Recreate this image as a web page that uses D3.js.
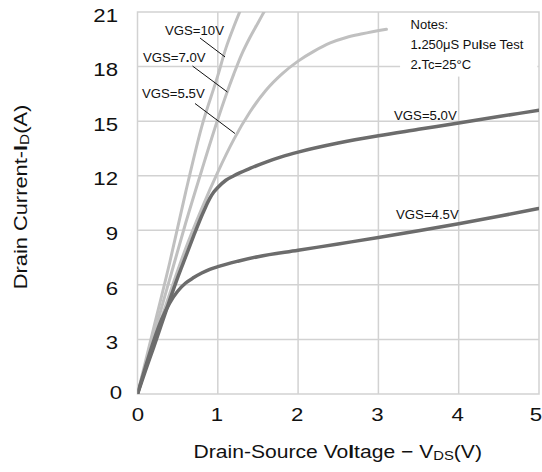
<!DOCTYPE html>
<html>
<head>
<meta charset="utf-8">
<script src="https://cdn.jsdelivr.net/npm/d3@7"></script>
<style>
  html, body { margin: 0; padding: 0; background: #fff; }
  svg { display: block; font-family: "Liberation Sans", Arial, sans-serif; }
</style>
</head>
<body>
<svg id="chart" width="542" height="472"></svg>
<script>
// Axis ticks
const xTicks = [0, 1, 2, 3, 4, 5];
const yTicks = [0, 3, 6, 9, 12, 15, 18, 21];

// Output characteristics: drain-source voltage (V) vs drain current (A)
const vds10  = [0, 0.2, 0.4, 0.6, 0.8, 1.0, 1.1, 1.2, 1.3];
const id10   = [0, 3.6, 7.2, 11.1, 14.7, 17.5, 19.0, 20.2, 21.3];

const vds70  = [0, 0.2, 0.4, 0.6, 0.8, 1.0, 1.1, 1.2, 1.3, 1.4, 1.5, 1.6];
const id70   = [0, 3.2, 6.3, 9.4, 12.3, 15.1, 16.4, 17.6, 18.7, 19.6, 20.4, 21.2];

const vds55  = [0, 0.2, 0.4, 0.6, 0.8, 1.0, 1.2, 1.4, 1.6, 1.8, 2.0, 2.2, 2.4, 2.6, 2.8, 3.1];
const id55   = [0, 2.8, 5.5, 8.0, 10.2, 12.2, 14.0, 15.5, 16.7, 17.6, 18.3, 18.85, 19.3, 19.6, 19.8, 20.05];

const vds50  = [0, 0.1, 0.2, 0.3, 0.4, 0.5, 0.6, 0.7, 0.8, 0.85, 0.9, 0.95, 1.0, 1.1, 1.2, 1.4, 1.6, 1.8, 2.0, 2.5, 3.0, 3.5, 4.0, 4.5, 5.0];
const id50   = [0, 1.3, 2.55, 3.85, 5.15, 6.4, 7.55, 8.7, 9.8, 10.3, 10.75, 11.1, 11.35, 11.75, 12.0, 12.4, 12.75, 13.05, 13.3, 13.8, 14.2, 14.55, 14.9, 15.25, 15.6];

const vds45  = [0, 0.1, 0.2, 0.3, 0.4, 0.5, 0.6, 0.7, 0.8, 0.9, 1.0, 1.25, 1.5, 2.0, 2.5, 3.0, 3.5, 4.0, 4.5, 5.0];
const id45   = [0, 1.5, 2.9, 4.1, 5.0, 5.65, 6.1, 6.4, 6.65, 6.85, 7.0, 7.3, 7.55, 7.9, 8.25, 8.6, 8.97, 9.36, 9.77, 10.2];

const seriesNames = ["VGS=10V", "VGS=7.0V", "VGS=5.5V", "VGS=5.0V", "VGS=4.5V"];

const series = [
  { name: seriesNames[0], v: vds10, i: id10, tone: "light" },
  { name: seriesNames[1], v: vds70, i: id70, tone: "light" },
  { name: seriesNames[2], v: vds55, i: id55, tone: "light" },
  { name: seriesNames[3], v: vds50, i: id50, tone: "dark" },
  { name: seriesNames[4], v: vds45, i: id45, tone: "dark" }
];

const svg = d3.select("#chart");
const plot = { left: 137.5, right: 539, top: 12, bottom: 394 };

const x = d3.scaleLinear().domain([0, 5]).range([plot.left, plot.right]);
const y = d3.scaleLinear().domain([0, 21]).range([plot.bottom, plot.top]);

const gridColor = "#d2d2d2";
const lightCurve = "#c0c0c0";
const darkCurve = "#6c6c6c";
const wideX = 1.2;

// Grid
const grid = svg.append("g");
grid.selectAll("line.v").data(xTicks.slice(1, -1)).join("line")
  .attr("x1", d => x(d)).attr("x2", d => x(d))
  .attr("y1", plot.top).attr("y2", plot.bottom)
  .attr("stroke", gridColor).attr("stroke-width", 1.5);
grid.selectAll("line.h").data(yTicks.slice(1, -1)).join("line")
  .attr("x1", plot.left).attr("x2", plot.right)
  .attr("y1", d => y(d)).attr("y2", d => y(d))
  .attr("stroke", gridColor).attr("stroke-width", 1.5);

// Notes panel background
svg.append("rect")
  .attr("x", x(3.27)).attr("y", plot.top)
  .attr("width", x(4.98) - x(3.27)).attr("height", y(17.45) - plot.top)
  .attr("fill", "#fff");

// Plot frame
svg.append("rect")
  .attr("x", plot.left).attr("y", plot.top)
  .attr("width", plot.right - plot.left).attr("height", plot.bottom - plot.top)
  .attr("fill", "none").attr("stroke", gridColor).attr("stroke-width", 1.5);

// Curves
svg.append("clipPath").attr("id", "plotClip").append("rect")
  .attr("x", plot.left).attr("y", plot.top)
  .attr("width", plot.right - plot.left).attr("height", plot.bottom - plot.top);

const line = d3.line()
  .x(d => x(d[0])).y(d => y(d[1]))
  .curve(d3.curveMonotoneX);

const curves = svg.append("g").attr("clip-path", "url(#plotClip)");
curves.selectAll("path")
  .data(series.filter(s => s.tone === "light").concat(series.filter(s => s.tone === "dark")))
  .join("path")
  .attr("d", s => line(s.v.map((v, k) => [v, s.i[k]])))
  .attr("fill", "none")
  .attr("stroke", s => s.tone === "light" ? lightCurve : darkCurve)
  .attr("stroke-width", s => s.tone === "light" ? 3 : 3.5)
  .attr("stroke-linecap", "round")
  .attr("stroke-linejoin", "round");

// Axes (labels only; grid and frame drawn above)
const yAxis = svg.append("g")
  .attr("transform", `translate(${plot.left},0)`)
  .call(d3.axisLeft(y).tickValues(yTicks).tickSize(0).tickPadding(19).tickFormat(d3.format("d")));
const xAxis = svg.append("g")
  .attr("transform", `translate(0,${plot.bottom})`)
  .call(d3.axisBottom(x).tickValues(xTicks).tickSize(0).tickPadding(14).tickFormat(d3.format("d")));

[yAxis, xAxis].forEach(ax => {
  ax.select(".domain").remove();
  ax.selectAll("text")
    .attr("font-family", "'Liberation Sans', Arial, sans-serif")
    .attr("font-size", 18.5)
    .attr("fill", "#111");
});
yAxis.selectAll(".tick text")
  .attr("x", d => (d === 0 ? -15.5 : -19.5) / wideX)
  .attr("dy", d => d === 0 ? "0.22em" : "0.5em")
  .attr("transform", `scale(${wideX},1)`);
xAxis.selectAll(".tick text")
  .attr("x", d => (d === 0 ? 0 : d === 5 ? -3.5 : -1.5) / wideX)
  .attr("transform", `scale(${wideX},1)`);

// Axis titles
const xTitle = svg.append("text")
  .attr("transform", `translate(${(plot.left + plot.right) / 2 - 0.5},458) scale(1.14,1)`)
  .attr("text-anchor", "middle")
  .attr("font-size", 18.5).attr("fill", "#111");
xTitle.append("tspan").text("Drain-Source Vo");
xTitle.append("tspan").attr("font-weight", "bold").text("l");
xTitle.append("tspan").text("tage \u2212  V");
xTitle.append("tspan").attr("font-size", 13).attr("dy", 2).text("DS");
xTitle.append("tspan").attr("dy", -2).text("(V)");

const yTitle = svg.append("text")
  .attr("transform", `translate(27,${(plot.top + plot.bottom) / 2 - 6}) rotate(-90) scale(1.18,1)`)
  .attr("text-anchor", "middle")
  .attr("font-size", 18.5).attr("fill", "#111");
yTitle.append("tspan").text("Drain Current-");
yTitle.append("tspan").attr("font-weight", "bold").text("I");
yTitle.append("tspan").attr("font-size", 13).attr("dy", 2).text("D");
yTitle.append("tspan").attr("dy", -2).text("(A)");

// Curve labels with leader lines (positions in data units)
const labels = [
  { parts: ["VGS=10V"], at: [0.342, 19.74], lead: [[0.778, 19.57], [1.09, 18.53]] },
  { parts: ["VGS=7", ".", "0V"], at: [0.068, 18.25], lead: [[0.685, 18.03], [1.12, 16.6]] },
  { parts: ["VGS=5", ".", "5V"], at: [0.056, 16.27], lead: [[0.716, 15.97], [1.214, 14.32]] },
  { parts: ["VGS=5", ".", "0V"], at: [3.195, 15.06], lead: null },
  { parts: ["VGS=4.5V"], at: [3.22, 9.62], lead: null }
];

const ann = svg.append("g");
labels.forEach(l => {
  const t = ann.append("text")
    .attr("x", x(l.at[0])).attr("y", y(l.at[1]))
    .attr("font-size", 13.2).attr("fill", "#111");
  l.parts.forEach(p => t.append("tspan").attr("font-weight", p === "." ? "bold" : null).text(p));
  if (l.lead) {
    ann.append("line")
      .attr("x1", x(l.lead[0][0])).attr("y1", y(l.lead[0][1]))
      .attr("x2", x(l.lead[1][0])).attr("y2", y(l.lead[1][1]))
      .attr("stroke", "#111").attr("stroke-width", 1);
  }
});

// Test conditions
const notes = [
  ["Notes:"],
  ["1", ".", "250\u03bcS Pu", "l", "se Test"],
  ["2", ".", "Tc=25\u00b0C"]
];
const noteX = x(3.4);
notes.forEach((parts, k) => {
  const t = svg.append("text")
    .attr("x", noteX).attr("y", 29.3 + k * 20)
    .attr("font-size", 13).attr("fill", "#111");
  parts.forEach(p => t.append("tspan")
    .attr("font-weight", (p === "." || p === "l") ? "bold" : null).text(p));
});
</script>
</body>
</html>
